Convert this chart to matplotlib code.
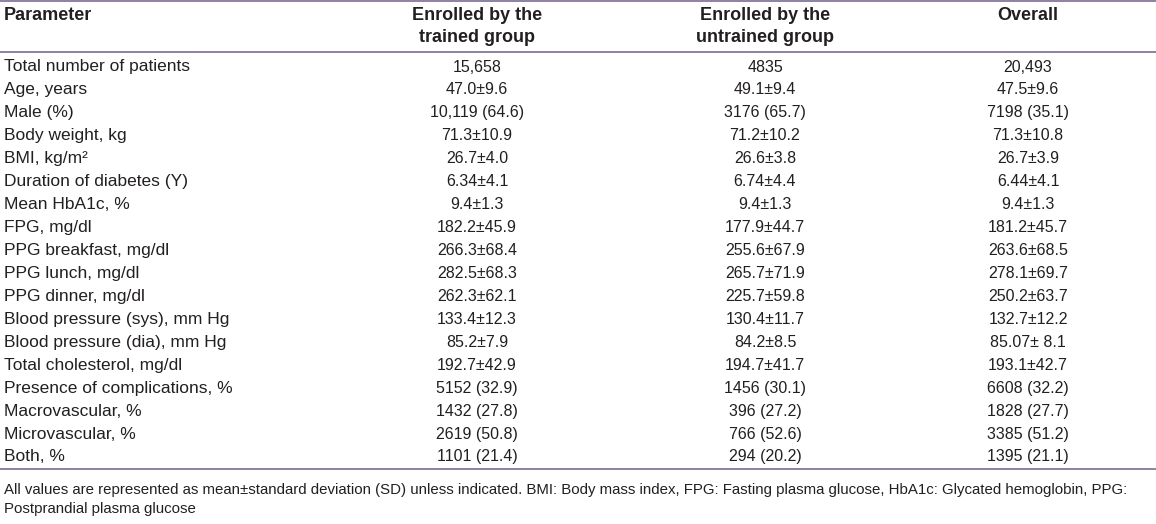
import matplotlib
matplotlib.use("Agg")
import matplotlib.pyplot as plt

parameters = [
    "Total number of patients", "Age, years", "Male (%)", "Body weight, kg",
    "BMI, kg/m²", "Duration of diabetes (Y)", "Mean HbA1c, %", "FPG, mg/dl",
    "PPG breakfast, mg/dl", "PPG lunch, mg/dl", "PPG dinner, mg/dl",
    "Blood pressure (sys), mm Hg", "Blood pressure (dia), mm Hg",
    "Total cholesterol, mg/dl", "Presence of complications, %",
    "Macrovascular, %", "Microvascular, %", "Both, %",
]
trained = [
    "15,658", "47.0±9.6", "10,119 (64.6)", "71.3±10.9", "26.7±4.0", "6.34±4.1",
    "9.4±1.3", "182.2±45.9", "266.3±68.4", "282.5±68.3", "262.3±62.1",
    "133.4±12.3", "85.2±7.9", "192.7±42.9", "5152 (32.9)", "1432 (27.8)",
    "2619 (50.8)", "1101 (21.4)",
]
untrained = [
    "4835", "49.1±9.4", "3176 (65.7)", "71.2±10.2", "26.6±3.8", "6.74±4.4",
    "9.4±1.3", "177.9±44.7", "255.6±67.9", "265.7±71.9", "225.7±59.8",
    "130.4±11.7", "84.2±8.5", "194.7±41.7", "1456 (30.1)", "396 (27.2)",
    "766 (52.6)", "294 (20.2)",
]
overall = [
    "20,493", "47.5±9.6", "7198 (35.1)", "71.3±10.8", "26.7±3.9", "6.44±4.1",
    "9.4±1.3", "181.2±45.7", "263.6±68.5", "278.1±69.7", "250.2±63.7",
    "132.7±12.2", "85.07± 8.1", "193.1±42.7", "6608 (32.2)", "1828 (27.7)",
    "3385 (51.2)", "1395 (21.1)",
]
headers = ["Parameter", "Enrolled by the\ntrained group",
           "Enrolled by the\nuntrained group", "Overall"]
footnote = ("All values are represented as mean±standard deviation (SD) unless indicated. "
            "BMI: Body mass index, FPG: Fasting plasma glucose, HbA1c: Glycated hemoglobin, PPG:\n"
            "Postprandial plasma glucose")

W, H = 1156, 524
fig = plt.figure(figsize=(W / 100, H / 100), dpi=100)
ax = fig.add_axes([0, 0, 1, 1])
ax.set_xlim(0, W)
row_px = 22.94
first_px = 67.0
ax.set_ylim((H - first_px) / row_px, -first_px / row_px)
ax.axis("off")

def py(p):
    return (p - first_px) / row_px

txt = "#231f20"
line_c = "#85769a"
fam = ["Liberation Sans", "DejaVu Sans"]
fs_param = 12.5
fs_val = 11.5
fs_head = 13
col_x = [4, 477, 765, 1028]

# rules
for p in (1, 52, 469):
    ax.axhline(py(p), color=line_c, lw=1.3)

# header
for j, (x, h) in enumerate(zip(col_x, headers)):
    for k, part in enumerate(h.split("\n")):
        ax.text(x, py(16 + 22 * k), part, ha="left" if j == 0 else "center",
                va="center", fontsize=fs_head, fontweight="bold", color=txt, family=fam)

for i, (p, a, b, c) in enumerate(zip(parameters, trained, untrained, overall)):
    ax.text(col_x[0], i, p, ha="left", va="center", fontsize=fs_param, color=txt, family=fam)
    for x, v in zip(col_x[1:], (a, b, c)):
        ax.text(x, i, v, ha="center", va="center", fontsize=fs_val, color=txt, family=fam)

for k, part in enumerate(footnote.split("\n")):
    ax.text(col_x[0], py(490 + 19 * k), part, ha="left", va="center", fontsize=10.8,
            color=txt, family=fam)

fig.savefig("out.png", dpi=100)
